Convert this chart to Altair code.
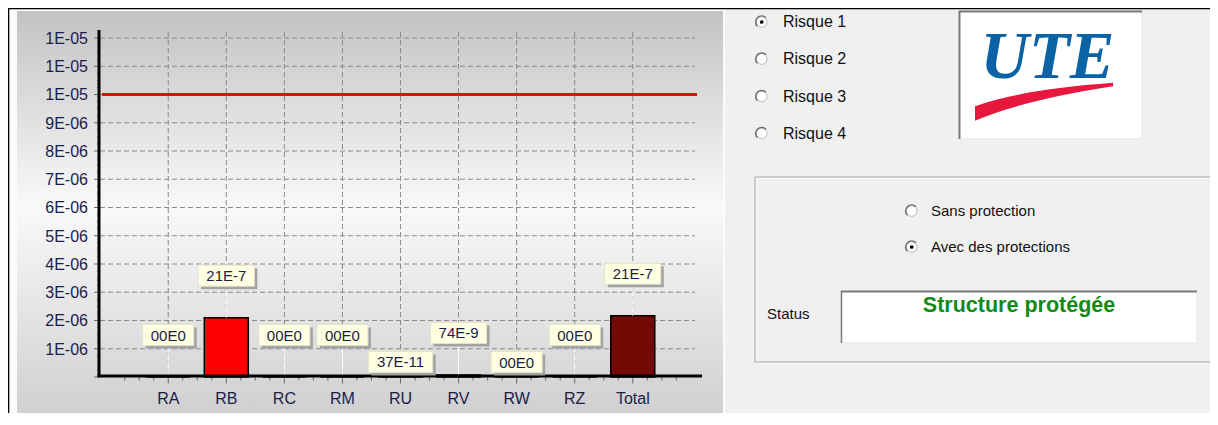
import altair as alt
import pandas as pd

# ---------------- data ----------------
categories = ["RA", "RB", "RC", "RM", "RU", "RV", "RW", "RZ", "Total"]
risk_values = [0.0, 2.1e-6, 0.0, 0.0, 3.7e-10, 7.4e-8, 0.0, 0.0, 2.17e-6]
value_labels = ["00E0", "21E-7", "00E0", "00E0", "37E-11", "74E-9", "00E0", "00E0", "21E-7"]
bar_colors = ["#ff0000", "#ff0000", "#ff0000", "#ff0000", "#ff0000",
              "#ff0000", "#ff0000", "#ff0000", "#720a06"]
tolerable_risk = 1.0e-5
y_tick_values = [0.0, 1e-6, 2e-6, 3e-6, 4e-6, 5e-6, 6e-6, 7e-6, 8e-6, 9e-6,
                 1.0e-5, 1.1e-5, 1.2e-5]
y_tick_labels = ["", "1E-06", "2E-06", "3E-06", "4E-06", "5E-06", "6E-06",
                 "7E-06", "8E-06", "9E-06", "1E-05", "1E-05", "1E-05"]
low_label_categories = ["RU", "RW"]
risk_options = ["Risque 1", "Risque 2", "Risque 3", "Risque 4"]
selected_risk = "Risque 1"
protection_options = ["Sans protection", "Avec des protections"]
selected_protection = "Avec des protections"
status_label = "Status"
status_text = "Structure protégée"
logo_text = "UTE"

# ---------------- styling ----------------
FONT = "Liberation Sans"
NAVY = "#1c1c4a"
TICK = "#6a6a6a"
W, H = 602, 339
GRID = "#8a8a8a"

char_w = {"0": .556, "1": .556, "2": .556, "3": .556, "4": .556, "5": .556,
          "6": .556, "7": .556, "8": .556, "9": .556, "E": .667, "-": .333}

df = pd.DataFrame({
    "idx": list(range(len(categories))),
    "cat": categories,
    "value": risk_values,
    "label": value_labels,
    "color": bar_colors,
})
df["low"] = df["cat"].isin(low_label_categories)
df["boxw"] = [sum(char_w.get(c, .556) for c in s) * 15 + 16 for s in value_labels]

yticks = pd.DataFrame({"t": y_tick_values, "lab": y_tick_labels})

xscale = alt.Scale(domain=[-1.089, 9.106], nice=False, zero=False)
yscale = alt.Scale(domain=[0, 1.2e-5], nice=False, zero=True)

X = alt.X("idx:Q", scale=xscale, axis=None)
Y = alt.Y("value:Q", scale=yscale, axis=None)
Y2 = alt.Y2("value")
YT = alt.Y("t:Q", scale=yscale, axis=None)

ONE = alt.Data(values=[{"k": 1}])


def rect(x, y, x2, y2, **mark):
    return alt.Chart(ONE).mark_rect(**mark).encode(
        x=alt.value(x), y=alt.value(y), x2=alt.value(x2), y2=alt.value(y2))


def rule(x, y, x2, y2, **mark):
    return alt.Chart(ONE).mark_rule(**mark).encode(
        x=alt.value(x), y=alt.value(y), x2=alt.value(x2), y2=alt.value(y2))


def text(x, y, t, **mark):
    return alt.Chart(ONE).mark_text(**mark).encode(
        x=alt.value(x), y=alt.value(y), text=alt.value(t))


def point(x, y, **mark):
    return alt.Chart(ONE).mark_point(**mark).encode(x=alt.value(x), y=alt.value(y))


def radio(cx, cy, selected):
    layers = [
        point(cx, cy, shape="circle", size=113, filled=True, fill="white",
              stroke="#b8b8b8", strokeWidth=1, opacity=1),
        point(cx, cy, shape="M -0.72 0.72 A 1 1 0 0 1 0.72 -0.72", size=144,
              filled=False, stroke="#6e6e6e", strokeWidth=1.4, opacity=1),
    ]
    if selected:
        layers.append(point(cx, cy, shape="circle", size=14, filled=True,
                            color="black", opacity=1))
    return layers


layers = []

# frame and panel background
layers.append(rect(-91, -28.5, 625, 400, fill="#fbfbfb"))
layers.append(rect(-83, -27, 623, 400, fill=alt.LinearGradient(
    gradient="linear", x1=0, y1=0, x2=0, y2=1,
    stops=[alt.GradientStop(color="#c3c3c3", offset=0),
           alt.GradientStop(color="#f9f9f9", offset=0.46),
           alt.GradientStop(color="#cbcbcb", offset=1)])))
layers.append(rule(-92, -29.5, 1120, -29.5, color="black", strokeWidth=1.6))
layers.append(rule(-91.5, -30, -91.5, 400, color="black", strokeWidth=1.6))

# grid lines
layers.append(alt.Chart(yticks).transform_filter("datum.t > 0").mark_rule(
    color=GRID, strokeDash=[5, 3], strokeWidth=1).encode(
    y=YT, x=alt.value(0), x2=alt.value(595)))
base = alt.Chart(df)
layers.append(base.mark_rule(color=GRID, strokeDash=[5, 3], strokeWidth=1).encode(
    x=X, y=alt.value(-6), y2=alt.value(H)))

# tolerable risk line
layers.append(alt.Chart(pd.DataFrame({"threshold": [tolerable_risk]})).mark_rule(
    color="#ff0000", strokeWidth=3).encode(
    y=alt.Y("threshold:Q", scale=yscale, axis=None), x=alt.value(2), x2=alt.value(597)))

# axis ticks (major and minor)
minor_x = [i / 4 for i in range(-3, 36) if i % 4]
minor_y = [i * 0.25e-6 for i in range(1, 48) if i % 4]
layers.append(alt.Chart(pd.DataFrame({"m": minor_x})).mark_rule(
    color=TICK, strokeWidth=1).encode(
    x=alt.X("m:Q", scale=xscale, axis=None), y=alt.value(H), y2=alt.value(H + 3.5)))
layers.append(alt.Chart(pd.DataFrame({"m": minor_y})).mark_rule(
    color=TICK, strokeWidth=1).encode(
    y=alt.Y("m:Q", scale=yscale, axis=None), x=alt.value(-3), x2=alt.value(0)))
layers.append(base.mark_rule(color=TICK, strokeWidth=1).encode(
    x=X, y=alt.value(H), y2=alt.value(H + 6.5)))
layers.append(alt.Chart(yticks).mark_rule(color=TICK, strokeWidth=1).encode(
    y=YT, x=alt.value(-6), x2=alt.value(0)))

# axis labels
layers.append(base.mark_text(baseline="alphabetic", align="center", font=FONT,
                             fontSize=16, color=NAVY).encode(
    x=X, y=alt.value(H + 27), text="cat:N"))
layers.append(alt.Chart(yticks).mark_text(baseline="alphabetic", align="right",
                                          yOffset=5.8, font=FONT, fontSize=16,
                                          color=NAVY).encode(
    y=YT, x=alt.value(-12), text="lab:N"))

# bars
layers.append(base.mark_bar(size=44, stroke="black", strokeWidth=1.5).encode(
    x=X, y=Y, fill=alt.Fill("color:N", scale=None)))

# leader lines
for cond, off in [("!datum.low", -42), ("datum.low", -15)]:
    layers.append(base.transform_filter(cond).mark_rule(
        color="white", strokeWidth=1, y2Offset=off + 10.5).encode(x=X, y=Y, y2=Y2))

# axis lines
layers.append(alt.Chart(pd.DataFrame({"v": [0.0]})).mark_rule(
    color="black", strokeWidth=3, yOffset=-1).encode(
    y=alt.Y("v:Q", scale=yscale, axis=None), x=alt.value(-2.5), x2=alt.value(W)))
layers.append(rule(-1, -8, -1, H, color="black", strokeWidth=3))

# value callouts
for cond, off in [("!datum.low", -42), ("datum.low", -15)]:
    sub = base.transform_filter(cond)
    layers.append(sub.mark_bar(color="#a2a2a2", xOffset=3, yOffset=off - 10.5 + 3,
                               y2Offset=off + 10.5 + 3).encode(
        x=X, y=Y, y2=Y2, size=alt.Size("boxw:Q", scale=None)))
    layers.append(sub.mark_bar(color="#ffffe1", stroke="#e4e4cc", strokeWidth=1,
                               yOffset=off - 10.5, y2Offset=off + 10.5).encode(
        x=X, y=Y, y2=Y2, size=alt.Size("boxw:Q", scale=None)))
    layers.append(sub.mark_text(yOffset=off + 0.5, baseline="middle", align="center",
                                font=FONT, fontSize=15, color=NAVY).encode(
        x=X, y=Y, text="label:N"))

# ---------------- right-hand panel ----------------
risk_y = [-16, 21, 58.5, 95.5]
for opt, yy in zip(risk_options, risk_y):
    layers += radio(661.7, yy, opt == selected_risk)
    layers.append(text(683, yy, opt, align="left", baseline="middle",
                       font=FONT, fontSize=16, color="#111111"))

# logo
layers.append(rect(859, -27, 1042, 101, fill="white", stroke="#e2e2e2", strokeWidth=1))
layers.append(rule(859, -26.5, 1042, -26.5, color="#7a7a7a", strokeWidth=2))
layers.append(rule(859.5, -27, 859.5, 101, color="#7a7a7a", strokeWidth=2))
layers.append(point(944, 63.5, shape="M-1,0.07 Q-0.35,-0.17 1,-0.27 L1,-0.22 Q-0.3,-0.02 -1,0.28 Z",
                    size=19044, filled=True, color="#e8173e", opacity=1))
layers.append(text(947.5, 40, logo_text, align="center", baseline="alphabetic",
                   font="Liberation Serif", fontSize=67, fontWeight="bold",
                   fontStyle="italic", color="#0b63a6"))

# group box
layers.append(rect(656, 140, 1141, 325, fill=None, filled=False, stroke="white", strokeWidth=1))
layers.append(rect(655, 139, 1140, 324, fill=None, filled=False, stroke="#a3a3a3", strokeWidth=1))
prot_y = [173, 209]
for opt, yy in zip(protection_options, prot_y):
    layers += radio(811.7, yy, opt == selected_protection)
    layers.append(text(831, yy, opt, align="left", baseline="middle",
                       font=FONT, fontSize=15, color="#111111"))

layers.append(text(667, 276, status_label, align="left", baseline="middle",
                   font=FONT, fontSize=15, color="#111111"))
layers.append(rect(741, 253, 1097, 305, fill="white", stroke="#e6e6e6", strokeWidth=1))
layers.append(rule(741, 253.5, 1097, 253.5, color="#7a7a7a", strokeWidth=2))
layers.append(rule(741.5, 253, 741.5, 305, color="#7a7a7a", strokeWidth=1.5))
layers.append(text(919, 268, status_text, align="center", baseline="middle",
                   font=FONT, fontSize=21.5, fontWeight="bold", color="#138a13"))

chart = alt.layer(*layers).properties(
    width=W, height=H,
    padding={"left": 92, "top": 30, "right": 508, "bottom": 36},
    autosize=alt.AutoSizeParams(type="none"),
    background="#f0f0f0",
).configure_view(stroke=None)

chart.save("out.html", embed_options={"renderer": "svg", "actions": False})
